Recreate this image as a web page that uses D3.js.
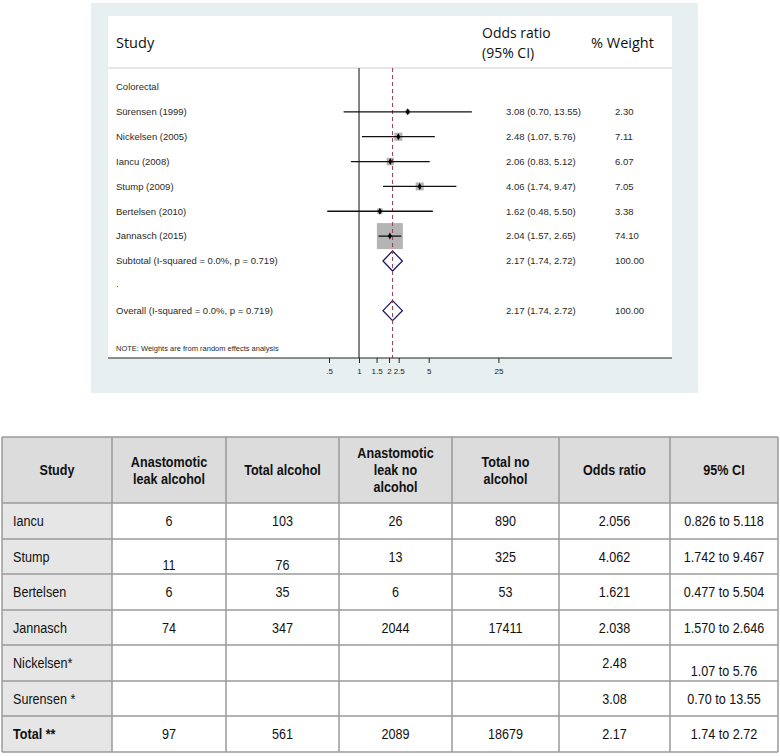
<!DOCTYPE html>
<html><head><meta charset="utf-8">
<script src="https://cdn.jsdelivr.net/npm/d3@7"></script>
<style>
html,body{margin:0;padding:0;background:#fff;}
svg{display:block;}
</style></head>
<body>
<svg id="chart" width="780" height="756"></svg>
<script>
// ---------- Forest plot data ----------
const studies = ["Sürensen (1999)", "Nickelsen (2005)", "Iancu (2008)", "Stump (2009)", "Bertelsen (2010)", "Jannasch (2015)"];
const oddsRatio = [3.08, 2.48, 2.06, 4.06, 1.62, 2.04];
const ciLow = [0.70, 1.07, 0.83, 1.74, 0.48, 1.57];
const ciHigh = [13.55, 5.76, 5.12, 9.47, 5.50, 2.65];
const weights = [2.30, 7.11, 6.07, 7.05, 3.38, 74.10];
const orLabels = ["3.08 (0.70, 13.55)", "2.48 (1.07, 5.76)", "2.06 (0.83, 5.12)", "4.06 (1.74, 9.47)", "1.62 (0.48, 5.50)", "2.04 (1.57, 2.65)"];
const weightLabels = ["2.30", "7.11", "6.07", "7.05", "3.38", "74.10"];
const pooledLabels = ["Subtotal  (I-squared = 0.0%, p = 0.719)", "Overall  (I-squared = 0.0%, p = 0.719)"];
const pooledOR = [2.17, 2.17];
const pooledLow = [1.74, 1.74];
const pooledHigh = [2.72, 2.72];
const pooledORLabels = ["2.17 (1.74, 2.72)", "2.17 (1.74, 2.72)"];
const pooledWeightLabels = ["100.00", "100.00"];
const axisTicks = [0.5, 1, 1.5, 2, 2.5, 5, 25];
const axisTickLabels = [".5", "1", "1.5", "2", "2.5", "5", "25"];

// ---------- Table data ----------
const tableHeaders = ["Study", "Anastomotic\nleak alcohol", "Total alcohol", "Anastomotic\nleak no\nalcohol", "Total no\nalcohol", "Odds ratio", "95% CI"];
const tableStudies = ["Iancu", "Stump", "Bertelsen", "Jannasch", "Nickelsen*", "Surensen *", "Total **"];
const leakAlcohol = ["6", "11", "6", "74", "", "", "97"];
const totalAlcohol = ["103", "76", "35", "347", "", "", "561"];
const leakNoAlcohol = ["26", "13", "6", "2044", "", "", "2089"];
const totalNoAlcohol = ["890", "325", "53", "17411", "", "", "18679"];
const tableOR = ["2.056", "4.062", "1.621", "2.038", "2.48", "3.08", "2.17"];
const tableCI = ["0.826 to 5.118", "1.742 to 9.467", "0.477 to 5.504", "1.570 to 2.646", "1.07 to 5.76", "0.70 to 13.55", "1.74 to 2.72"];

const svg = d3.select("#chart");

// ================= Forest plot =================
const outer = {x: 91, y: 3, w: 607, h: 390};
const inner = {x: 108, y: 16, w: 564, bottom: 358};
svg.append("rect").attr("x", outer.x).attr("y", outer.y).attr("width", outer.w).attr("height", outer.h).attr("fill", "#e8eff1");
svg.append("rect").attr("x", inner.x).attr("y", inner.y).attr("width", inner.w).attr("height", inner.bottom - inner.y).attr("fill", "#ffffff");

const x = d3.scaleLog().domain([0.5, 25]).range([329, 498.4]);
const y = d3.scaleLinear().domain([0, 1]).range([87, 87 + 24.85]);
const headerLineY = 68;

// header
const hf = "'Open Sans', sans-serif";
const htxt = (xx, yy, s) => svg.append("text").attr("x", xx).attr("y", yy).attr("font-family", hf).attr("font-size", 14.5).attr("fill", "#111").text(s);
htxt(116, 48, "Study");
const orHead = svg.append("text").attr("font-family", hf).attr("font-size", 14).attr("fill", "#111");
orHead.append("tspan").attr("x", 482).attr("y", 38).text("Odds ratio");
orHead.append("tspan").attr("x", 482).attr("y", 58).text("(95% CI)");
htxt(591, 48, "% Weight");
svg.append("line").attr("x1", inner.x).attr("x2", inner.x + inner.w).attr("y1", headerLineY).attr("y2", headerLineY).attr("stroke", "#cfcfcf").attr("stroke-width", 1.2);

const tf = "'Liberation Sans', Arial, sans-serif";
const fs = 9.5;
const txt = (xx, yy, s, size) => svg.append("text").attr("x", xx).attr("y", yy).attr("dy", "0.35em")
  .attr("font-family", tf).attr("font-size", size || fs).attr("fill", "#2a2a2a").text(s);

// null line
svg.append("line").attr("x1", x(1)).attr("x2", x(1)).attr("y1", headerLineY).attr("y2", inner.bottom).attr("stroke", "#333").attr("stroke-width", 1.2);

txt(116, y(0), "Colorectal");

// boxes
const boxK = 3.02;
studies.forEach((s, i) => {
  const yy = y(i + 1);
  const side = boxK * Math.sqrt(weights[i]);
  svg.append("rect").attr("x", x(oddsRatio[i]) - side / 2).attr("y", yy - side / 2).attr("width", side).attr("height", side).attr("fill", "#b4b4b4");
});

// pooled diamonds
pooledLabels.forEach((s, j) => {
  const yy = y(j === 0 ? 7 : 9);
  const pts = [[x(pooledLow[j]), yy], [x(pooledOR[j]), yy - 10], [x(pooledHigh[j]), yy], [x(pooledOR[j]), yy + 10]];
  svg.append("path").attr("d", d3.line()(pts) + "Z").attr("fill", "#fff").attr("stroke", "#1d1d66").attr("stroke-width", 1.3);
  txt(116, yy, s);
  txt(506, yy, pooledORLabels[j]);
  txt(615, yy, pooledWeightLabels[j]);
});

// dashed pooled line
svg.append("line").attr("x1", x(pooledOR[1])).attr("x2", x(pooledOR[1])).attr("y1", headerLineY).attr("y2", inner.bottom)
  .attr("stroke", "#9a3b50").attr("stroke-width", 1).attr("stroke-dasharray", "4,3");

// CI lines and points
studies.forEach((s, i) => {
  const yy = y(i + 1);
  svg.append("line").attr("x1", x(ciLow[i])).attr("x2", x(ciHigh[i])).attr("y1", yy).attr("y2", yy).attr("stroke", "#111").attr("stroke-width", 1.3);
  svg.append("path").attr("transform", `translate(${x(oddsRatio[i])},${yy})`).attr("d", d3.symbol(d3.symbolDiamond, 14)()).attr("fill", "#000");
  txt(116, yy, s);
  txt(506, yy, orLabels[i]);
  txt(615, yy, weightLabels[i]);
});

txt(116, y(8) - 2, ".");
txt(116, y(10.5), "NOTE: Weights are from random effects analysis", 7.5);

// axis
svg.append("line").attr("x1", inner.x).attr("x2", inner.x + inner.w).attr("y1", inner.bottom).attr("y2", inner.bottom).attr("stroke", "#222").attr("stroke-width", 1);
const ax = svg.append("g").attr("transform", `translate(0,${inner.bottom})`)
  .call(d3.axisBottom(x).tickValues(axisTicks).tickFormat((d, i) => axisTickLabels[i]).tickSize(5).tickPadding(5));
ax.select(".domain").remove();
ax.selectAll("line").attr("stroke", "#222");
ax.selectAll("text").attr("font-family", tf).attr("font-size", 8).attr("fill", "#222");

// ================= Table =================
const colX = [2, 112, 226, 339, 452, 559, 670, 778];
const rowY = [437, 503, 539, 574, 610, 645, 681, 716, 752];
const nf = "'Liberation Sans', Arial, sans-serif";
const squeeze = 0.84;
const columns = [tableStudies, leakAlcohol, totalAlcohol, leakNoAlcohol, totalNoAlcohol, tableOR, tableCI];
const tg = svg.append("g");

// backgrounds
tg.append("rect").attr("x", colX[0]).attr("y", rowY[0]).attr("width", colX[7] - colX[0]).attr("height", rowY[1] - rowY[0]).attr("fill", "#dcdcdc");
tg.append("rect").attr("x", colX[0]).attr("y", rowY[1]).attr("width", colX[1] - colX[0]).attr("height", rowY[8] - rowY[1]).attr("fill", "#e6e6e6");

// grid
rowY.forEach(yy => tg.append("line").attr("x1", colX[0]).attr("x2", colX[7]).attr("y1", yy).attr("y2", yy).attr("stroke", "#9a9a9a").attr("stroke-width", 1.5));
colX.forEach(xx => tg.append("line").attr("x1", xx).attr("x2", xx).attr("y1", rowY[0]).attr("y2", rowY[8]).attr("stroke", "#9a9a9a").attr("stroke-width", 1.5));

// header text
tableHeaders.forEach((h, c) => {
  const lines = h.split("\n");
  const cx = (colX[c] + colX[c + 1]) / 2;
  const cy = (rowY[0] + rowY[1]) / 2;
  const lh = 17;
  const t = tg.append("text").attr("transform", `translate(${cx},${cy}) scale(${squeeze},1)`)
    .attr("text-anchor", "middle").attr("font-family", nf).attr("font-size", 15).attr("font-weight", "bold").attr("fill", "#111");
  lines.forEach((l, k) => {
    t.append("tspan").attr("x", 0).attr("y", (k - (lines.length - 1) / 2) * lh).attr("dy", "0.35em").text(l);
  });
});

// body text
const offsets = {"1,1": 8, "1,2": 8, "4,6": 8};
columns.forEach((col, c) => {
  col.forEach((v, r) => {
    if (!v) return;
    const cy = (rowY[r + 1] + rowY[r + 2]) / 2 + (offsets[r + "," + c] || 0);
    const cx = c === 0 ? colX[0] + 11 : (colX[c] + colX[c + 1]) / 2;
    const t = tg.append("text").attr("transform", `translate(${cx},${cy}) scale(${squeeze},1)`)
      .attr("dy", "0.35em").attr("font-family", nf).attr("font-size", 15).attr("fill", "#111").text(v)
      .attr("text-anchor", c === 0 ? "start" : "middle");
    if (c === 0 && r === 6) t.attr("font-weight", "bold");
  });
});
</script>
</body></html>
